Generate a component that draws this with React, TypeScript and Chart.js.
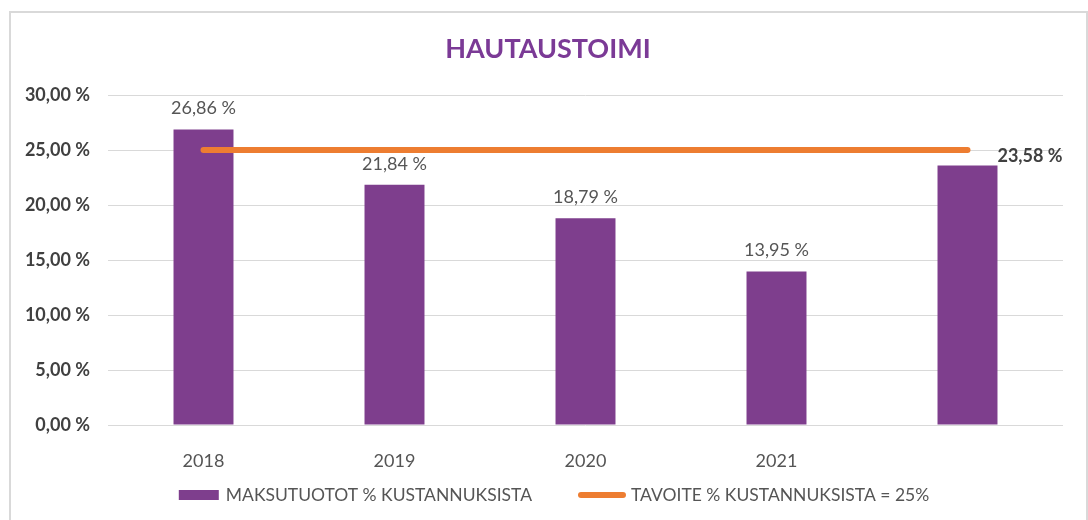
import React, { useEffect, useRef } from 'react';
import { Chart, registerables } from 'chart.js';

Chart.register(...registerables);

const categories = ['2018', '2019', '2020', '2021', ''];
const feeIncomePct = [26.86, 21.84, 18.79, 13.95, 23.58];
const targetPct = [25, 25, 25, 25, 25];
const yTickValues = [0, 5, 10, 15, 20, 25, 30];
const chartTitle = 'HAUTAUSTOIMI';
const barSeriesLabel = 'MAKSUTUOTOT % KUSTANNUKSISTA';
const lineSeriesLabel = 'TAVOITE % KUSTANNUKSISTA = 25%';

const PURPLE = '#7E3E8D';
const ORANGE = '#ED7D31';
const TEXT = '#555555';
const FONT = 'Lato, "Open Sans", sans-serif';

const fmt = (v: number) => v.toFixed(2).replace('.', ',') + ' %';

const titlePlugin = {
  id: 'customTitle',
  afterDraw(chart: any) {
    const ctx = chart.ctx;
    ctx.save();
    ctx.font = `bold 27px ${FONT}`;
    ctx.fillStyle = '#7B3A96';
    ctx.textAlign = 'center';
    ctx.textBaseline = 'middle';
    ctx.fillText(chartTitle, 548, 49);
    ctx.restore();
  },
};

const valueLabelsPlugin = {
  id: 'valueLabels',
  afterDatasetsDraw(chart: any) {
    const ctx = chart.ctx;
    const meta = chart.getDatasetMeta(0);
    const values = chart.data.datasets[0].data as number[];
    ctx.save();
    ctx.textBaseline = 'middle';
    meta.data.forEach((el: any, i: number) => {
      const v = values[i];
      const last = i === values.length - 1;
      if (last) {
        ctx.font = `bold 18px ${FONT}`;
        ctx.fillStyle = '#404040';
        ctx.textAlign = 'left';
        ctx.fillText(fmt(v), el.x + el.width / 2, el.y - 9);
      } else {
        ctx.font = `18px ${FONT}`;
        ctx.fillStyle = TEXT;
        ctx.textAlign = 'center';
        ctx.fillText(fmt(v), el.x, el.y - 21);
      }
    });
    ctx.restore();
  },
};

const bottomLegendPlugin = {
  id: 'bottomLegend',
  afterDraw(chart: any) {
    const ctx = chart.ctx;
    const ds = chart.data.datasets;
    ctx.save();
    ctx.font = `17.5px ${FONT}`;
    ctx.textBaseline = 'middle';
    ctx.textAlign = 'left';
    const y = 495;
    const rectW = 40;
    const lineW = 48;
    const w1 = ctx.measureText(ds[0].label).width;
    const w2 = ctx.measureText(ds[1].label).width;
    const total = rectW + 7 + w1 + 46 + lineW + 5 + w2;
    let x = chart.width / 2 + 10 - total / 2;
    ctx.fillStyle = ds[0].backgroundColor;
    ctx.fillRect(x, y - 5, rectW, 10);
    x += rectW + 7;
    ctx.fillStyle = TEXT;
    ctx.fillText(ds[0].label, x, y);
    x += w1 + 46;
    ctx.strokeStyle = ds[1].borderColor;
    ctx.lineWidth = 6;
    ctx.lineCap = 'round';
    ctx.beginPath();
    ctx.moveTo(x + 3, y);
    ctx.lineTo(x + lineW - 3, y);
    ctx.stroke();
    x += lineW + 5;
    ctx.fillStyle = TEXT;
    ctx.fillText(ds[1].label, x, y);
    ctx.restore();
  },
};

export default function App() {
  const ref = useRef<HTMLCanvasElement | null>(null);

  useEffect(() => {
    if (!ref.current) return;
    const chart = new Chart(ref.current, {
      type: 'bar',
      data: {
        labels: categories,
        datasets: [
          {
            type: 'bar',
            label: barSeriesLabel,
            data: feeIncomePct,
            backgroundColor: PURPLE,
            borderWidth: 0,
            barPercentage: 1,
            categoryPercentage: 0.314,
            order: 1,
          } as any,
          {
            type: 'line',
            label: lineSeriesLabel,
            data: targetPct,
            borderColor: ORANGE,
            backgroundColor: ORANGE,
            borderWidth: 6,
            borderCapStyle: 'round',
            pointRadius: 0,
            fill: false,
            order: 0,
          } as any,
        ],
      },
      options: {
        animation: false,
        responsive: false,
        layout: { padding: { top: 95, left: 0, right: 25, bottom: 45 } },
        plugins: {
          legend: { display: false },
          tooltip: { enabled: false },
          title: { display: false },
        },
        scales: {
          x: {
            grid: { display: false },
            border: { display: false },
            ticks: {
              color: TEXT,
              font: { family: FONT, size: 18 },
              padding: 17,
            },
            afterFit: (s: any) => {
              s.height = 50;
            },
          },
          y: {
            min: 0,
            max: 30,
            grid: { color: '#D9D9D9', lineWidth: 1, drawTicks: false },
            border: { display: false },
            afterBuildTicks: (s: any) => {
              s.ticks = yTickValues.map((v) => ({ value: v }));
            },
            ticks: {
              color: '#404040',
              font: { family: FONT, size: 18, weight: 'bold' },
              padding: 18,
              callback: (v: any) => fmt(Number(v)),
            },
            afterFit: (s: any) => {
              s.width = 108;
            },
          },
        },
      } as any,
      plugins: [valueLabelsPlugin, bottomLegendPlugin, titlePlugin],
    });
    return () => chart.destroy();
  }, []);

  return (
    <div style={{ position: 'fixed', left: 0, top: 0, width: 1088, height: 520, overflow: 'hidden', background: '#fff' }}>
      <div
        style={{
          position: 'absolute',
          left: 9,
          top: 11,
          width: 1079,
          height: 509,
          boxSizing: 'border-box',
          borderLeft: '2px solid #D9D9D9',
          borderTop: '2px solid #D9D9D9',
          borderRight: '2px solid #D9D9D9',
        }}
      />
      <canvas
        ref={ref}
        width={1088}
        height={520}
        style={{ position: 'absolute', left: 0, top: 0, width: 1088, height: 520 }}
      />
    </div>
  );
}
